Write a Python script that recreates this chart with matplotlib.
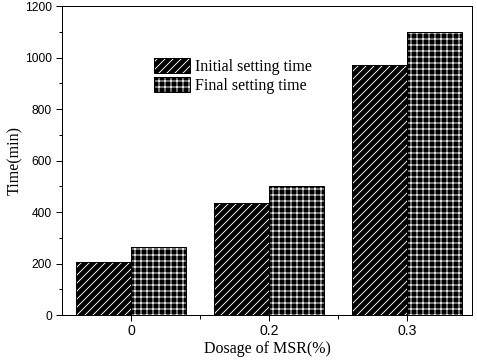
import numpy as np
import matplotlib
matplotlib.use("Agg")
import matplotlib.pyplot as plt
from matplotlib.patches import Patch
from matplotlib.legend_handler import HandlerTuple
from matplotlib.ticker import MultipleLocator, FixedLocator

dosage = ["0", "0.2", "0.3"]
initial_time = [206, 437, 971]
final_time = [264, 503, 1100]

serif = "Liberation Serif"
sans = "Liberation Sans"
plt.rcParams["hatch.linewidth"] = 0.9

fig = plt.figure(figsize=(477 / 72, 361 / 72), dpi=72)
ax = fig.add_axes([0.130, 0.1274, 0.8595, 0.8556])

x = np.arange(len(dosage))
w = 0.4
# black fill with white hatch, then a black outline on top
ax.bar(x - w / 2, initial_time, w, color="black", edgecolor="white", hatch="///", linewidth=0)
ax.bar(x - w / 2, initial_time, w, fill=False, edgecolor="black", linewidth=1)
ax.bar(x + w / 2, final_time, w, color="black", edgecolor="white", hatch="++", linewidth=0)
ax.bar(x + w / 2, final_time, w, fill=False, edgecolor="black", linewidth=1)

ax.set_xlim(-0.5, 2.47)
ax.set_ylim(0, 1200)
ax.set_xticks(x)
ax.set_xticklabels(dosage)
ax.xaxis.set_minor_locator(FixedLocator([0.5, 1.5]))
ax.yaxis.set_major_locator(MultipleLocator(200))
ax.yaxis.set_minor_locator(MultipleLocator(100))
ax.tick_params(which="major", direction="out", length=6, width=1)
ax.tick_params(which="minor", direction="out", length=3.5, width=1)
ax.tick_params(axis="y", which="major", labelsize=12, pad=4)
ax.tick_params(axis="x", which="major", labelsize=14, pad=3)
for lab in ax.get_xticklabels() + ax.get_yticklabels():
    lab.set_fontfamily(sans)
for s in ax.spines.values():
    s.set_linewidth(1)

ax.set_xlabel("Dosage of MSR(%)", fontfamily=serif, fontsize=16, labelpad=3)
ax.set_ylabel("Time(min)", fontfamily=serif, fontsize=16, labelpad=2)

h1 = (Patch(facecolor="black", edgecolor="white", hatch="///", linewidth=0),
      Patch(fill=False, edgecolor="black", linewidth=1))
h2 = (Patch(facecolor="black", edgecolor="white", hatch="++", linewidth=0),
      Patch(fill=False, edgecolor="black", linewidth=1))
ax.legend([h1, h2], ["Initial setting time", "Final setting time"],
          handler_map={tuple: HandlerTuple(ndivide=1, pad=0)},
          loc="upper left", bbox_to_anchor=(0.225, 0.832), frameon=False,
          prop={"family": serif, "size": 16}, handlelength=2.25, handleheight=1.05,
          handletextpad=0.3, labelspacing=0.12, borderpad=0, borderaxespad=0)

fig.savefig("out.png", dpi=72)
